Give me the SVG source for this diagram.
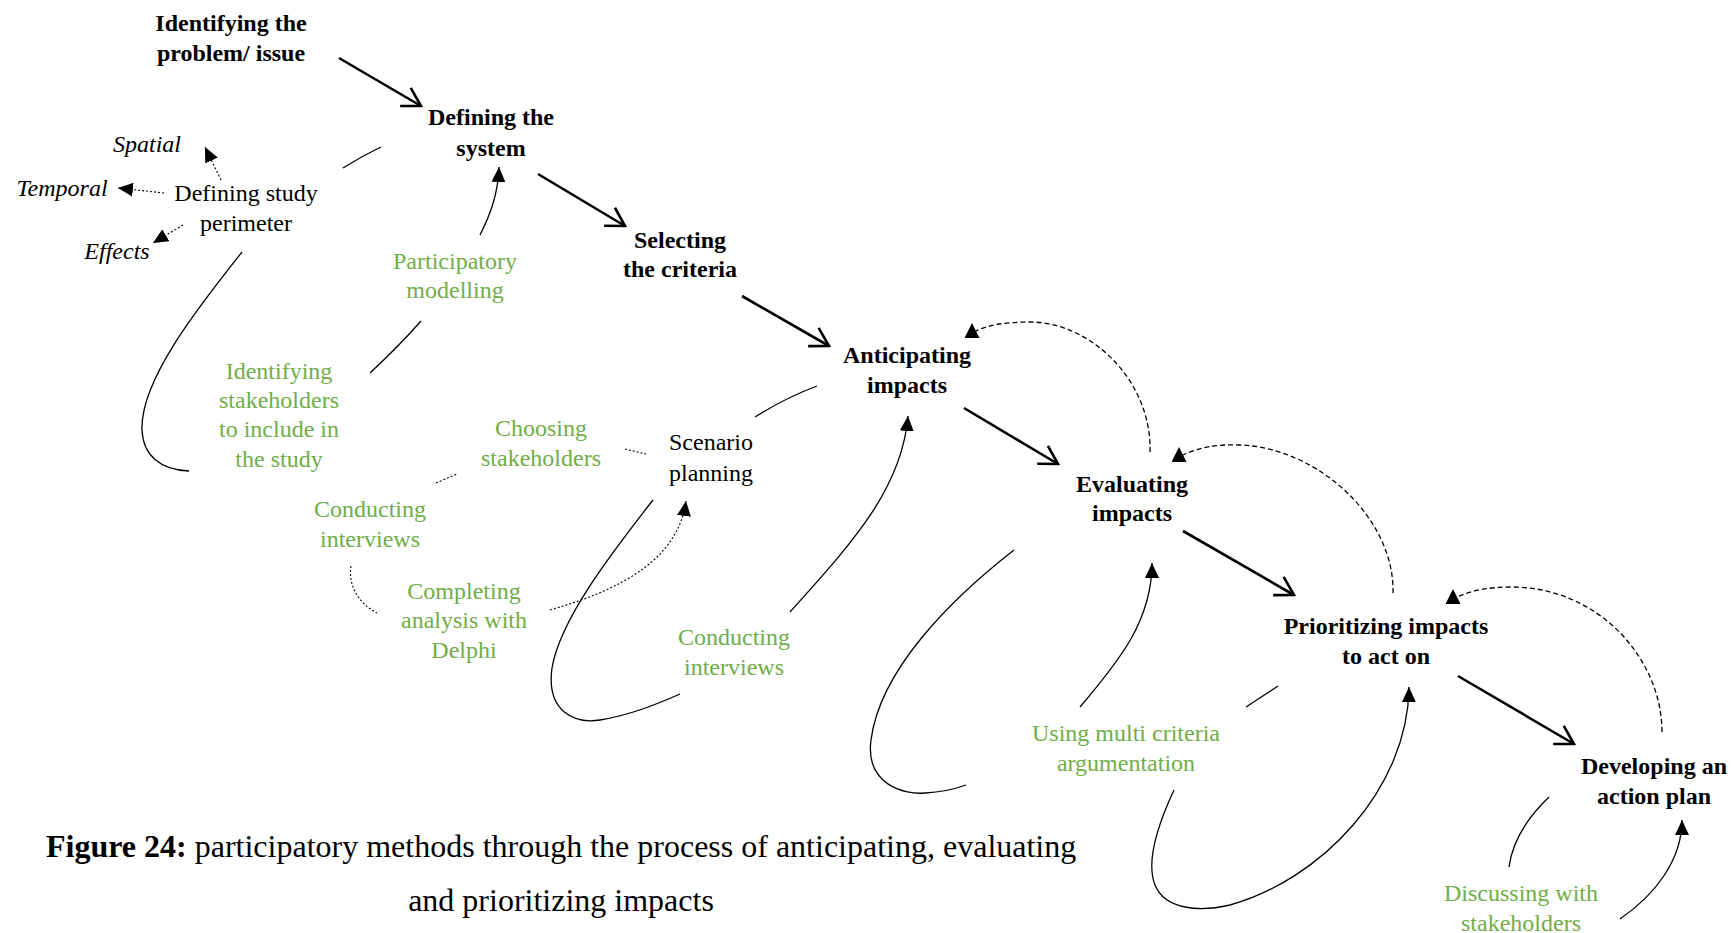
<svg xmlns="http://www.w3.org/2000/svg" width="1731" height="933" viewBox="0 0 1731 933">
<style>
text{font-family:"Liberation Serif","Times New Roman",serif;font-size:24px;text-anchor:middle;fill:#000}
.b{font-weight:bold}
.i{font-style:italic}
.g{fill:#70AD47}
.main{stroke:#000;stroke-width:2.6;fill:none;marker-end:url(#open)}
.thin{stroke:#000;stroke-width:1.3;fill:none}
.arr{marker-end:url(#tri)}
.up{marker-end:url(#up)}
.dot{stroke:#000;stroke-width:1.1;fill:none;stroke-dasharray:2 2}
.dash{stroke:#000;stroke-width:1.3;fill:none;stroke-dasharray:5 3}
.cap{font-size:32px;text-anchor:start}
</style>
<defs>
<marker id="open" markerUnits="userSpaceOnUse" viewBox="-20 -12 22 24" refX="0" refY="0" markerWidth="22" markerHeight="24" orient="auto">
<path d="M-18,-10.5 L0,0 L-18,10.5" fill="none" stroke="#000" stroke-width="2.6"/>
</marker>
<marker id="tri" markerUnits="userSpaceOnUse" viewBox="0 0 15 14" refX="15" refY="7" markerWidth="15" markerHeight="14" orient="auto">
<path d="M0,0 L15,7 L0,14 z" fill="#000"/>
</marker>
<marker id="up" markerUnits="userSpaceOnUse" viewBox="0 0 15 15" refX="11.5" refY="8" markerWidth="15" markerHeight="15" orient="0">
<path d="M7.5,0 L15,15 L0,15 z" fill="#000"/>
</marker>
</defs>
<rect width="1731" height="933" fill="#fff"/>
<g id="connectors">
<path class="main" d="M339,58 L421,106"/>
<path class="main" d="M538,174 L625,226"/>
<path class="main" d="M742,296 L829,346"/>
<path class="main" d="M964,408 L1058,464"/>
<path class="main" d="M1183,531 L1294,595"/>
<path class="main" d="M1458,676 L1574,744"/>
<path class="thin" d="M343,168 Q362,156 381,147"/>
<path class="thin" d="M242,252 C200,305 140,380 142,430 C143,455 160,470 189,471"/>
<path class="thin" d="M370,373 Q400,345 421,321"/>
<path class="thin arr" d="M480,235 C490,215 498,195 499,167"/>
<path class="dot arr" d="M221,180 L205,147"/>
<path class="dot arr" d="M164,193 L118,188"/>
<path class="dot arr" d="M183,225 L153,243"/>
<path class="thin" d="M755,417 Q785,398 817,386"/>
<path class="dot" d="M625,449 L646,454"/>
<path class="dot" d="M436,483 L457,474"/>
<path class="dot" d="M351,566 C348,585 358,603 377,613"/>
<path class="dot arr" d="M550,610 C620,590 678,560 686,501"/>
<path class="thin" d="M653,500 C610,555 560,620 552,668 C546,712 575,724 600,720 C630,715 655,705 680,694"/>
<path class="thin arr" d="M790,612 C850,545 902,490 908,416"/>
<path class="dash up" d="M1150,452 C1152,380 1090,322 1030,322 C1005,322 988,325 976,331"/>
<path class="thin" d="M1014,550 C950,600 880,670 871,740 C865,785 905,795 925,793 C945,792 955,789 966,785"/>
<path class="thin arr" d="M1080,707 C1120,660 1152,620 1152,563"/>
<path class="dash up" d="M1393,593 C1395,520 1320,448 1240,445 C1215,444 1198,448 1183,455"/>
<path class="thin" d="M1246,707 L1278,686"/>
<path class="thin arr" d="M1174,790 C1160,820 1145,860 1155,885 C1165,910 1200,912 1230,905 C1320,880 1408,790 1409,687"/>
<path class="dash up" d="M1662,732 C1662,660 1600,588 1513,587 C1490,587 1472,590 1457,597"/>
<path class="thin" d="M1549,797 C1525,820 1512,845 1509,867"/>
<path class="thin arr" d="M1620,919 C1655,895 1682,860 1682,820"/>
</g>
<g id="identifying-problem"><text class="b" x="231" y="31">Identifying the</text><text class="b" x="231" y="61">problem/ issue</text></g>
<g id="defining-system"><text class="b" x="491" y="125">Defining the</text><text class="b" x="491" y="156">system</text></g>
<g id="selecting-criteria"><text class="b" x="680" y="248">Selecting</text><text class="b" x="680" y="277">the criteria</text></g>
<g id="anticipating-impacts"><text class="b" x="907" y="363">Anticipating</text><text class="b" x="907" y="393">impacts</text></g>
<g id="evaluating-impacts"><text class="b" x="1132" y="492">Evaluating</text><text class="b" x="1132" y="521">impacts</text></g>
<g id="prioritizing-impacts"><text class="b" x="1386" y="634">Prioritizing impacts</text><text class="b" x="1386" y="664">to act on</text></g>
<g id="developing-plan"><text class="b" x="1654" y="774">Developing an</text><text class="b" x="1654" y="804">action plan</text></g>
<g id="defining-perimeter"><text x="246" y="201">Defining study</text><text x="246" y="231">perimeter</text></g>
<g id="spatial"><text class="i" x="147" y="152">Spatial</text></g>
<g id="temporal"><text class="i" x="62" y="196">Temporal</text></g>
<g id="effects"><text class="i" x="117" y="259">Effects</text></g>
<g id="scenario-planning"><text x="711" y="450">Scenario</text><text x="711" y="481">planning</text></g>
<g id="participatory-modelling"><text class="g" x="455" y="269">Participatory</text><text class="g" x="455" y="298">modelling</text></g>
<g id="identifying-stakeholders"><text class="g" x="279" y="379">Identifying</text><text class="g" x="279" y="408">stakeholders</text><text class="g" x="279" y="437">to include in</text><text class="g" x="279" y="467">the study</text></g>
<g id="choosing-stakeholders"><text class="g" x="541" y="436">Choosing</text><text class="g" x="541" y="466">stakeholders</text></g>
<g id="conducting-interviews-1"><text class="g" x="370" y="517">Conducting</text><text class="g" x="370" y="547">interviews</text></g>
<g id="completing-delphi"><text class="g" x="464" y="599">Completing</text><text class="g" x="464" y="628">analysis with</text><text class="g" x="464" y="658">Delphi</text></g>
<g id="conducting-interviews-2"><text class="g" x="734" y="645">Conducting</text><text class="g" x="734" y="675">interviews</text></g>
<g id="multi-criteria"><text class="g" x="1126" y="741">Using multi criteria</text><text class="g" x="1126" y="771">argumentation</text></g>
<g id="discussing-stakeholders"><text class="g" x="1521" y="901">Discussing with</text><text class="g" x="1521" y="931">stakeholders</text></g>
<g id="caption">
<text class="cap" x="46" y="857"><tspan font-weight="bold">Figure 24:</tspan> participatory methods through the process of anticipating, evaluating</text>
<text class="cap" x="561" y="911" style="text-anchor:middle">and prioritizing impacts</text>
</g>
</svg>
